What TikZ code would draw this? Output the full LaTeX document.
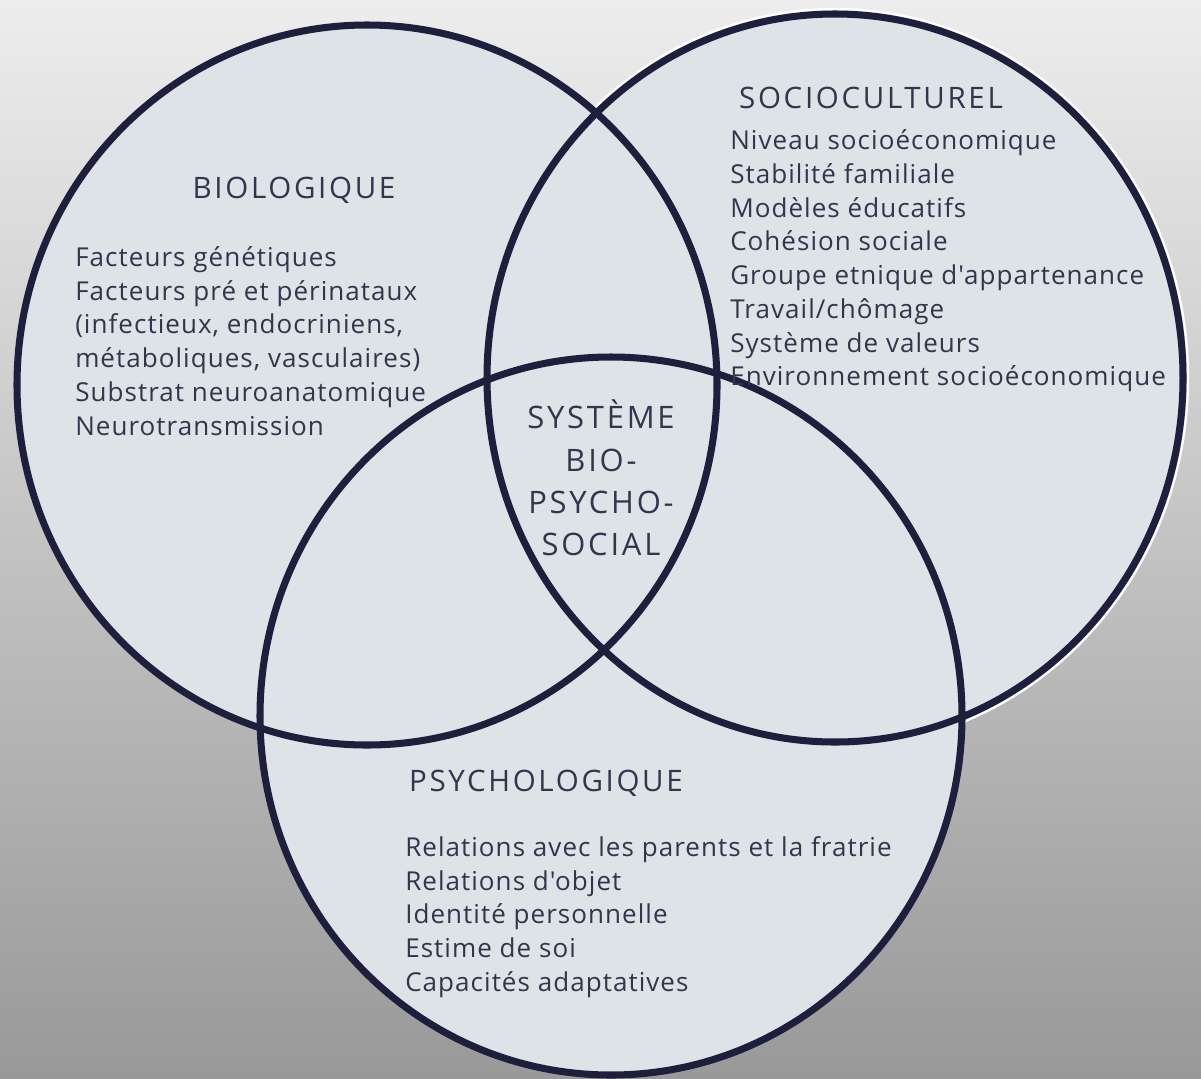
\documentclass[tikz,border=0pt]{standalone}
\usepackage{fontspec}
\setmainfont{Open Sans}
\newfontfamily\headfont[LetterSpace=9]{Open Sans}
\newfontfamily\bodyfont[LetterSpace=4]{Open Sans}
\usetikzlibrary{positioning}
\definecolor{ringblue}{HTML}{DDE3E6}
\definecolor{ringline}{HTML}{1E1F3D}
\definecolor{inkgray}{HTML}{33354C}
\definecolor{bgtop}{HTML}{EDEDED}
\definecolor{bgmid}{HTML}{BBBBBB}
\definecolor{bgbot}{HTML}{999999}
\tikzset{
  ring/.style = {fill=ringblue, draw=none},
  rim/.style = {draw=ringline, line width=5pt},
  halo/.style = {draw=white, line width=1.6pt},
  heading/.style = {text=inkgray, font=\headfont\fontsize{21}{25}\selectfont, inner sep=0pt},
  factors/.style = {text=inkgray, font=\bodyfont\fontsize{18.5}{24}\selectfont, align=left, inner sep=0pt, anchor=west}
}

\begin{document}
\begin{tikzpicture}[x=0.025cm, y=-0.025cm]
  \useasboundingbox (0,0) rectangle (1201,1078);
  \shade [top color=bgtop, middle color=bgmid, bottom color=bgbot] (0,0) rectangle (1201,1078);

  % centres of the three spheres
  \coordinate (bio) at (367,385);
  \coordinate (socio) at (835,378);
  \coordinate (psy) at (611,716);

  \draw [halo] (socio) ellipse [x radius=353, y radius=369];

  \fill [ring] (bio) ellipse [x radius=350, y radius=360];
  \fill [ring] (socio) ellipse [x radius=348, y radius=364];
  \fill [ring] (psy) ellipse [x radius=351, y radius=359];

  \draw [rim] (bio) ellipse [x radius=350, y radius=360];
  \draw [rim] (socio) ellipse [x radius=348, y radius=364];
  \draw [rim] (psy) ellipse [x radius=351, y radius=359];

  % headings
  \node [heading] (biotitle) at (294,190) {BIOLOGIQUE};
  \node [heading] (sociotitle) at (871,98) {SOCIOCULTUREL};
  \node [heading] (psytitle) at (546,783) {PSYCHOLOGIQUE};
  \node [heading, align=center, font=\headfont\fontsize{22}{30}\selectfont] (core) at (601,478) {SYSTÈME\\BIO-\\PSYCHO-\\SOCIAL};

  % lists of factors
  \node [factors] (biolist) at (75,341) {Facteurs génétiques\\Facteurs pré et périnataux\\(infectieux, endocriniens,\\métaboliques, vasculaires)\\Substrat neuroanatomique\\Neurotransmission};
  \node [factors] (sociolist) at (730,261) {Niveau socioéconomique\\Stabilité familiale\\Modèles éducatifs\\Cohésion sociale\\Groupe etnique d'appartenance\\Travail/chômage\\Système de valeurs\\Environnement socioéconomique};
  \node [factors] (psylist) at (405,917) {Relations avec les parents et la fratrie\\Relations d'objet\\Identité personnelle\\Estime de soi\\Capacités adaptatives};
\end{tikzpicture}
\end{document}
